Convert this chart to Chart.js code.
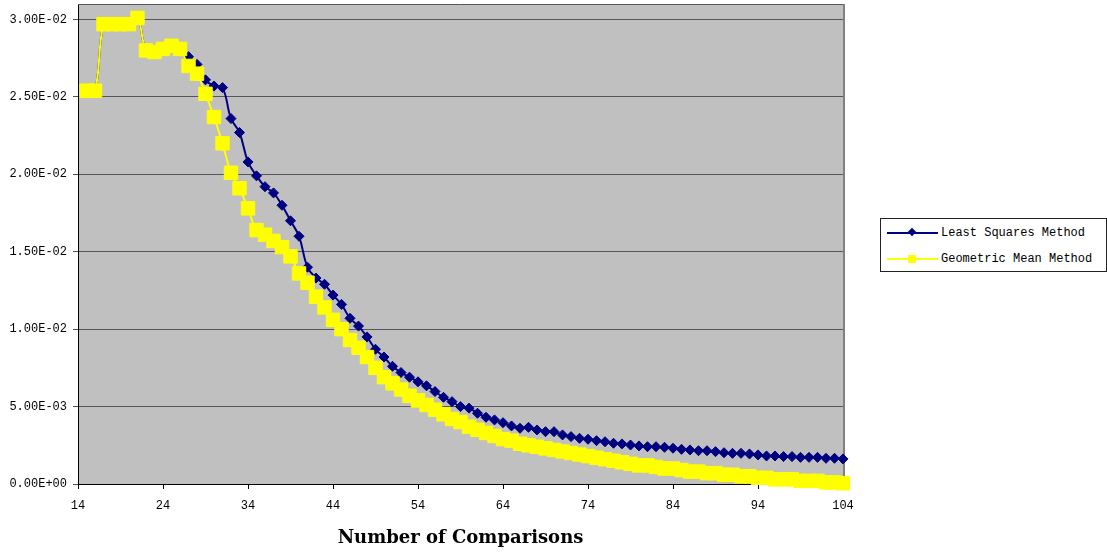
<!DOCTYPE html>
<html>
<head>
<meta charset="utf-8">
<script src="https://cdn.jsdelivr.net/npm/chart.js@4/dist/chart.umd.min.js"></script>
<style>
  html, body { margin: 0; padding: 0; background: #fff; }
  #wrap { position: relative; width: 1107px; height: 552px; overflow: hidden; }
  #chart { position: absolute; left: 0; top: 0; }
  #legend {
    position: absolute; left: 880px; top: 218px; width: 225px; height: 52px;
    border: 1px solid #222; background: #fff;
    font-family: "Liberation Mono", monospace; font-size: 12px; color: #000;
  }
  .item { position: absolute; left: 0; height: 16px; width: 225px; }
  .line { position: absolute; left: 6px; top: 7px; width: 51px; height: 2px; }
  .mark { position: absolute; }
  .label { position: absolute; left: 60px; top: 0; line-height: 16px; white-space: nowrap; }
</style>
</head>
<body>
<div id="wrap">
  <canvas id="chart" width="1107" height="552"></canvas>
  <div id="legend">
    <div class="item" style="top:6px">
      <div class="line" style="background:#000080"></div>
      <div class="mark" style="left:28px;top:4px;width:6px;height:6px;background:#000080;transform:rotate(45deg);transform-origin:center;"></div>
      <div class="label">Least Squares Method</div>
    </div>
    <div class="item" style="top:32px">
      <div class="line" style="background:#ffff00"></div>
      <div class="mark" style="left:27px;top:4px;width:8px;height:8px;background:#ffff00;"></div>
      <div class="label">Geometric Mean Method</div>
    </div>
  </div>
</div>
<script>
// Number of comparisons (x values)
const comparisons = [
  15, 16, 17, 18, 19, 20, 21, 22, 23, 24,
  25, 26, 27, 28, 29, 30, 31, 32, 33, 34,
  35, 36, 37, 38, 39, 40, 41, 42, 43, 44,
  45, 46, 47, 48, 49, 50, 51, 52, 53, 54,
  55, 56, 57, 58, 59, 60, 61, 62, 63, 64,
  65, 66, 67, 68, 69, 70, 71, 72, 73, 74,
  75, 76, 77, 78, 79, 80, 81, 82, 83, 84,
  85, 86, 87, 88, 89, 90, 91, 92, 93, 94,
  95, 96, 97, 98, 99, 100, 101, 102, 103, 104
];

// Least Squares Method
const leastSquares = [
  0.0254, 0.0254, 0.0297, 0.0297, 0.0297, 0.0297, 0.0301, 0.0280, 0.0279, 0.0281,
  0.0283, 0.0280, 0.0276, 0.0271, 0.0261, 0.0257, 0.0256, 0.0236, 0.0227, 0.0208,
  0.0199, 0.0192, 0.0188, 0.0180, 0.0170, 0.0160, 0.0140, 0.0133, 0.0129, 0.0122,
  0.0116, 0.0107, 0.0102, 0.0095, 0.0087, 0.0082, 0.0076, 0.0072, 0.0069, 0.0066,
  0.00634, 0.00597, 0.00560, 0.00532, 0.00500, 0.00490, 0.00457, 0.00431, 0.00414, 0.00396,
  0.00375, 0.00360, 0.00366, 0.00349, 0.00338, 0.00338, 0.00317, 0.00306, 0.00295, 0.00289,
  0.00280, 0.00273, 0.00263, 0.00259, 0.00252, 0.00246, 0.00241, 0.00241, 0.00237, 0.00231,
  0.00224, 0.00220, 0.00215, 0.00215, 0.00209, 0.00202, 0.00198, 0.00198, 0.00194, 0.00188,
  0.00181, 0.00181, 0.00177, 0.00177, 0.00172, 0.00172, 0.00172, 0.00166, 0.00166, 0.00162
];

// Geometric Mean Method
const geometricMean = [
  0.0254, 0.0254, 0.0297, 0.0297, 0.0297, 0.0297, 0.0301, 0.0280, 0.0279, 0.0281,
  0.0283, 0.0281, 0.0270, 0.0265, 0.0252, 0.0237, 0.0220, 0.0201, 0.0191, 0.0178,
  0.0164, 0.0161, 0.0157, 0.0153, 0.0147, 0.0136, 0.0130, 0.0121, 0.0114, 0.0106,
  0.0100, 0.0093, 0.0088, 0.0082, 0.0075, 0.0069, 0.0065, 0.0061, 0.0057, 0.0054,
  0.0051, 0.0048, 0.0045, 0.0042, 0.0040, 0.0037, 0.0035, 0.0033, 0.0031, 0.0029,
  0.0028, 0.0026, 0.0025, 0.0024, 0.0023, 0.0022, 0.0021, 0.0020, 0.0019, 0.0018,
  0.0017, 0.0016, 0.0015, 0.0014, 0.0013, 0.0012, 0.0012, 0.0011, 0.0010, 0.0010,
  0.0009, 0.0008, 0.0008, 0.0007, 0.0007, 0.0006, 0.0006, 0.0005, 0.0005, 0.0004,
  0.0004, 0.0003, 0.0003, 0.0003, 0.0002, 0.0002, 0.0002, 0.0001, 0.0001, 0.00005
];

// Axis ticks
const xTicks = [14, 24, 34, 44, 54, 64, 74, 84, 94, 104];
const yTicks = [0, 0.005, 0.01, 0.015, 0.02, 0.025, 0.03];

const toPoints = ys => comparisons.map((x, i) => ({ x: x, y: ys[i] }));

// Format numbers like 3.00E-02
function sci(v) {
  const [m, e] = Number(v).toExponential(2).split('e');
  const sign = e[0] === '-' ? '-' : '+';
  const digits = e.replace(/[+-]/, '').padStart(2, '0');
  return m + 'E' + sign + digits;
}

// Grey plot area with a thin frame
const plotFrame = {
  id: 'plotFrame',
  beforeDraw(chart) {
    const { ctx, chartArea: a } = chart;
    ctx.save();
    ctx.fillStyle = '#c0c0c0';
    ctx.fillRect(a.left, a.top, a.right - a.left, a.bottom - a.top);
    ctx.restore();
  },
  beforeDatasetsDraw(chart) {
    const { ctx, chartArea: a } = chart;
    ctx.save();
    ctx.lineWidth = 1;
    ctx.strokeStyle = '#555';
    ctx.beginPath();
    ctx.moveTo(a.left, a.top + 0.5);
    ctx.lineTo(a.right + 0.5, a.top + 0.5);
    ctx.stroke();
    ctx.strokeStyle = '#808080';
    ctx.lineWidth = 2;
    ctx.beginPath();
    ctx.moveTo(a.right + 1, a.top);
    ctx.lineTo(a.right + 1, a.bottom);
    ctx.stroke();
    ctx.restore();
  }
};

const tickFont = { family: 'Liberation Mono', size: 12 };

new Chart(document.getElementById('chart'), {
  type: 'line',
  data: {
    datasets: [
      {
        label: 'Least Squares Method',
        data: toPoints(leastSquares),
        borderColor: '#000080',
        backgroundColor: '#000080',
        borderWidth: 2,
        pointStyle: 'rectRot',
        pointRadius: 5,
        pointBorderWidth: 1,
        tension: 0.4,
        clip: false,
        order: 1
      },
      {
        label: 'Geometric Mean Method',
        data: toPoints(geometricMean),
        borderColor: '#ffff00',
        backgroundColor: '#ffff00',
        borderWidth: 2,
        pointStyle: 'rect',
        pointRadius: 9.5,
        pointBorderWidth: 1,
        tension: 0.4,
        clip: false,
        order: 0
      }
    ]
  },
  options: {
    responsive: false,
    animation: false,
    events: [],
    layout: { autoPadding: false, padding: { left: 0, right: 264, top: 4, bottom: 0 } },
    plugins: { legend: { display: false }, tooltip: { enabled: false } },
    scales: {
      x: {
        type: 'linear',
        min: 14,
        max: 104,
        afterBuildTicks: s => { s.ticks = xTicks.map(v => ({ value: v })); },
        afterFit: s => { s.height = 68; s.paddingLeft = 0; s.paddingRight = 0; },
        grid: { drawOnChartArea: false, drawTicks: true, tickLength: 5, color: '#000' },
        border: { display: true, color: '#000', width: 1 },
        ticks: { font: tickFont, color: '#000', padding: 10, maxRotation: 0, autoSkip: false },
        title: {
          display: true,
          text: 'Number of Comparisons',
          color: '#000',
          font: { family: 'DejaVu Serif', size: 18, weight: 'bold' },
          padding: { top: 0, bottom: 3 }
        }
      },
      y: {
        min: 0,
        max: 0.031,
        afterBuildTicks: s => { s.ticks = yTicks.map(v => ({ value: v })); },
        afterFit: s => { s.width = 78; s.paddingTop = 0; s.paddingBottom = 0; },
        grid: { drawTicks: true, tickLength: 5, color: '#555', lineWidth: 1 },
        border: { display: true, color: '#000', width: 1 },
        ticks: { font: tickFont, color: '#000', padding: 6, callback: v => sci(v) }
      }
    }
  },
  plugins: [plotFrame]
});
</script>
</body>
</html>
